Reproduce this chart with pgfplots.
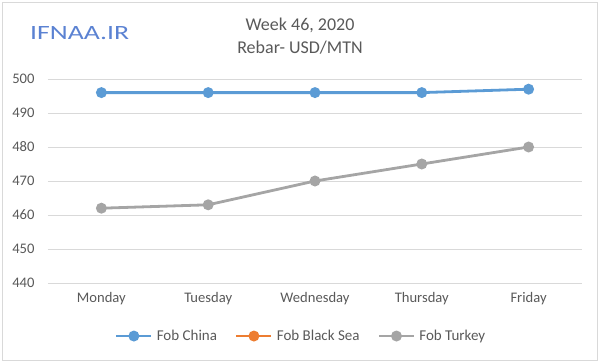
\documentclass[border=0pt]{standalone}
\usepackage{pgfplots}
\pgfplotsset{compat=1.18}
\usepackage{fontspec}
\setmainfont{Carlito}
\definecolor{cblue}{HTML}{5B9BD5}
\definecolor{corange}{HTML}{ED7D31}
\definecolor{cgray}{HTML}{A5A5A5}
\definecolor{ctext}{HTML}{595959}
\definecolor{cgrid}{HTML}{D9D9D9}
\definecolor{clogo}{HTML}{5B82D2}
\begin{document}
\begin{tikzpicture}[x=1pt,y=1pt]
\path (0,0) rectangle (600,362);
\draw[cgrid, line width=1pt] (2,1.5) rectangle (597,359);
\node[text=clogo, inner sep=0, anchor=south west] at (30,322) {\resizebox{99pt}{13pt}{IFNAA.IR}};
\node[text=ctext, font=\fontsize{18}{21}\selectfont] at (300,337) {Week 46, 2020};
\node[text=ctext, font=\fontsize{18}{21}\selectfont] at (300,314) {Rebar- USD/MTN};
\begin{axis}[
  at={(48pt,79pt)}, anchor=south west,
  scale only axis, width=534pt, height=204pt,
  xmin=-0.5, xmax=4.5, ymin=440, ymax=500,
  xtick={0,1,2,3,4},
  xticklabels={Monday,Tuesday,Wednesday,Thursday,Friday},
  ytick={440,450,460,470,480,490,500},
  ymajorgrids, grid style={cgrid, line width=1pt},
  axis line style={draw=none},
  major tick length=0pt,
  tick label style={text=ctext, font=\fontsize{14.6}{17}\selectfont},
  /pgf/number format/assume math mode=true,
  yticklabel style={xshift=-10pt},
  xticklabel style={yshift=-6pt},
  legend style={at={(0.474,-0.26)}, anchor=center, draw=none, fill=none,
    legend columns=-1, font=\fontsize{15}{18}\selectfont, text=ctext,
    /tikz/every odd column/.append style={column sep=2pt},
    /tikz/every even column/.append style={column sep=16pt}},
  legend image code/.code={\draw[mark repeat=2, mark phase=2] plot coordinates {(0pt,0pt) (17.5pt,0pt) (35pt,0pt)};},
  every axis plot/.append style={line width=2.8pt, mark=*, mark size=4pt, mark options={solid}},
]
\addplot[cblue, mark options={fill=cblue, draw=cblue}] coordinates {(0,496) (1,496) (2,496) (3,496) (4,497)};
\addlegendentry{Fob China}
\addlegendimage{corange, line width=2.8pt, mark=*, mark size=4pt, mark options={fill=corange, draw=corange}}
\addlegendentry{Fob Black Sea}
\addplot[cgray, mark options={fill=cgray, draw=cgray}] coordinates {(0,462) (1,463) (2,470) (3,475) (4,480)};
\addlegendentry{Fob Turkey}
\end{axis}
\end{tikzpicture}
\end{document}
